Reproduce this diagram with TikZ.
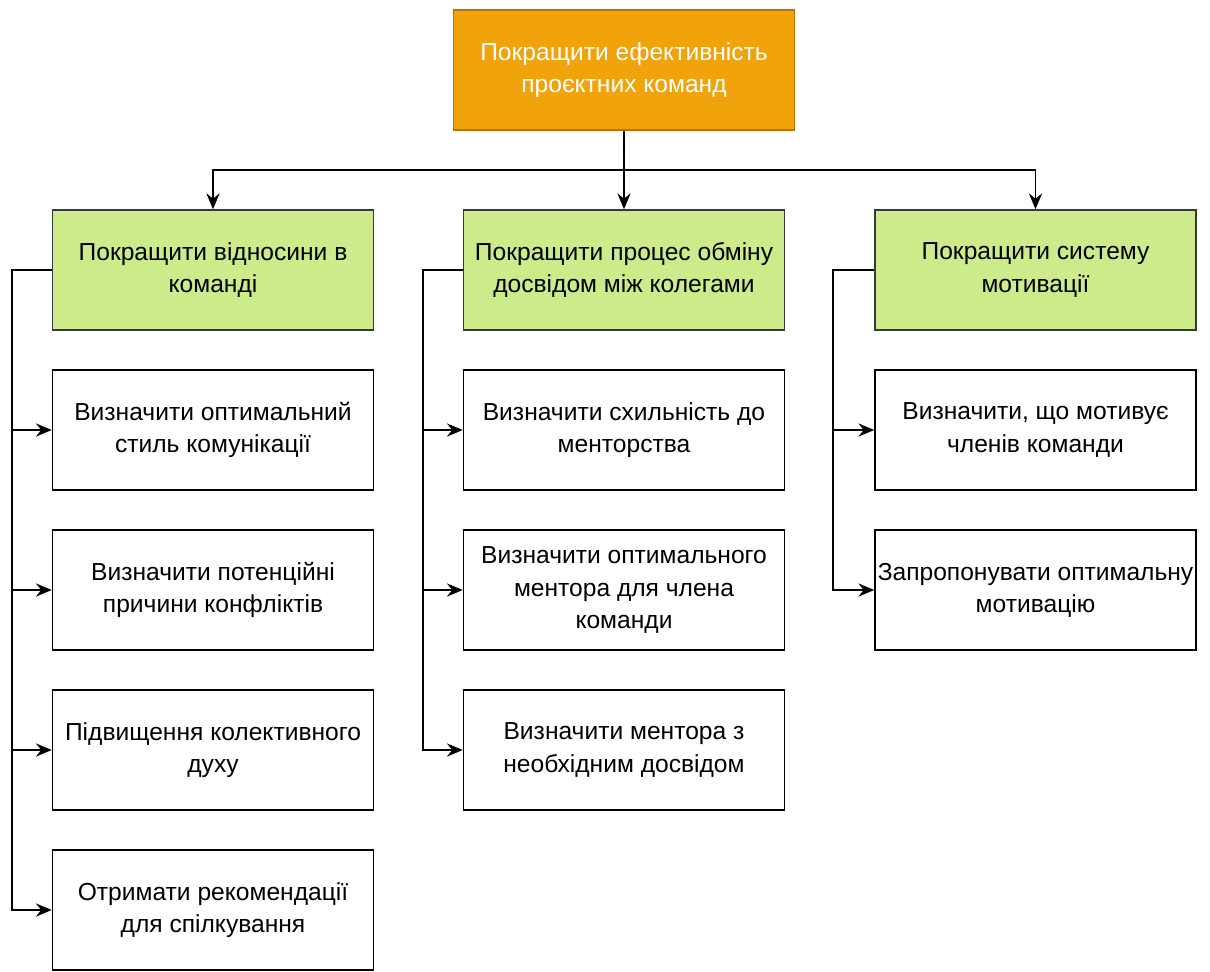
\documentclass[tikz,border=0pt]{standalone}
\usepackage{fontspec}
\setmainfont{Liberation Sans}
\usetikzlibrary{arrows.meta}
\definecolor{orfill}{HTML}{F0A30A}
\definecolor{ordraw}{HTML}{BD7000}
\definecolor{grfill}{HTML}{CDEB8B}
\definecolor{grdraw}{HTML}{36393D}
\begin{document}
\begin{tikzpicture}[x=0.02cm,y=-0.02cm,
  box/.style={rectangle,draw=black,line width=0.9pt,fill=white,minimum width=6.42cm,minimum height=2.4cm,inner sep=0pt,align=center,font=\fontsize{14}{18.3}\selectfont},
  goal/.style={box,fill=orfill,draw=ordraw,text=white,minimum width=6.82cm},
  sub/.style={box,fill=grfill,draw=grdraw},
  arr/.style={draw=black,line width=1pt,-{Stealth[length=9pt,width=7.5pt,inset=3pt]}},
  ln/.style={draw=black,line width=1pt}]
\useasboundingbox (0,0) rectangle (1210,971);
\node[goal] (top) at (624,70) {Покращити ефективність\\проєктних команд};
\node[sub] (L1) at (213,270) {Покращити відносини в\\команді};
\node[sub] (M1) at (624,270) {Покращити процес обміну\\досвідом між колегами};
\node[sub] (R1) at (1035.5,270) {Покращити систему\\мотивації};
\node[box] (L2) at (213,430) {Визначити оптимальний\\стиль комунікації};
\node[box] (L3) at (213,590) {Визначити потенційні\\причини конфліктів};
\node[box] (L4) at (213,750) {Підвищення колективного\\духу};
\node[box] (L5) at (213,910) {Отримати рекомендації\\для спілкування};
\node[box] (M2) at (624,430) {Визначити схильність до\\менторства};
\node[box] (M3) at (624,590) {Визначити оптимального\\ментора для члена\\команди};
\node[box] (M4) at (624,750) {Визначити ментора з\\необхідним досвідом};
\node[box] (R2) at (1035.5,430) {Визначити, що мотивує\\членів команди};
\node[box] (R3) at (1035.5,590) {Запропонувати оптимальну\\мотивацію};
\coordinate (j) at (624,170);
\draw[ln] (top.south) -- (j);
\draw[arr] (j) -| (L1.north);
\draw[arr] (j) -| (R1.north);
\draw[arr] (j) -- (M1.north);
\foreach \c in {L2,L3,L4,L5}{\draw[arr] (L1.west) -- ++(-40,0) |- (\c.west);}
\foreach \c in {M2,M3,M4}{\draw[arr] (M1.west) -- ++(-40,0) |- (\c.west);}
\foreach \c in {R2,R3}{\draw[arr] (R1.west) -- ++(-41,0) |- (\c.west);}
\end{tikzpicture}
\end{document}
